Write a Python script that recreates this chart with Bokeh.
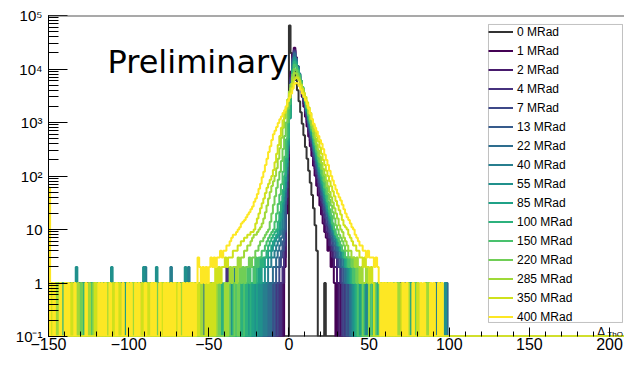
from bokeh.plotting import figure
from bokeh.models import (Range1d, Legend, LegendItem, Label, BoxAnnotation, Span,
                          CustomJSTickFormatter, SingleIntervalTicker)
from bokeh.palettes import Viridis256
from bokeh.embed import file_html
from bokeh.resources import INLINE

# ---------------- data (counts per 1-unit bin) ----------------
labels = ["0 MRad", "1 MRad", "2 MRad", "4 MRad", "7 MRad", "13 MRad", "22 MRad", "40 MRad",
          "55 MRad", "85 MRad", "100 MRad", "150 MRad", "220 MRad", "285 MRad", "350 MRad", "400 MRad"]

bin_lo, bin_hi = -150, 250
x_view = (-150, 209.35)
y_view = (0.1, 1e5)

start_0 = 0
core_0 = [65000, 20000, 14000, 9500, 6200, 4000, 2500, 1550, 950, 580, 350, 210, 125, 75, 44, 25,
          12, 4]
tail_0 = [22]

start_1 = -3
core_1 = [2, 20, 200, 2000, 9000, 19000, 25000, 16500, 10800, 7000, 4600, 3000, 1960, 1280, 840,
          550, 360, 236, 155, 101, 66, 43, 28, 19, 13, 9, 7, 4, 5, 2, 3, 1]
tail_1 = [-124, -14, -10, -7, -5, 30, 31]

start_2 = -4
core_2 = [1, 3, 30, 230, 1700, 7800, 17500, 23000, 16000, 10800, 7300, 4900, 3300, 2220, 1490,
          1000, 670, 450, 302, 203, 136, 92, 62, 42, 28, 19, 13, 9, 7, 5, 4, 3, 2, 2, 1]
tail_2 = [-86, -19, -16, -11, -9, -6, 33, 34]

start_4 = -5
core_4 = [1, 2, 5, 40, 260, 1600, 7000, 16000, 22000, 15800, 11000, 7600, 5200, 3550, 2420, 1650,
          1120, 760, 515, 350, 238, 162, 110, 75, 51, 35, 24, 17, 12, 9, 7, 5, 4, 3, 3, 2, 2, 1]
tail_4 = [-39, -39, -21, -17, -15, -12, -8, -7, 35, 69]

start_7 = -7
core_7 = [1, 2, 3, 4, 9, 60, 300, 1500, 6500, 15000, 21000, 15500, 11200, 8000, 5600, 3900, 2700,
          1860, 1280, 880, 605, 415, 285, 196, 135, 93, 64, 44, 31, 22, 16, 12, 9, 7, 5, 4, 3, 3, 2, 2, 1]
tail_7 = [-126, -57, -30, -16, -13, -10, 36, 39]

start_13 = -9
core_13 = [1, 2, 2, 3, 4, 6, 10, 80, 330, 1400, 5800, 14000, 20000, 15500, 11400, 8200, 5800, 4100,
           2850, 1980, 1370, 950, 660, 460, 320, 222, 155, 108, 76, 54, 39, 28, 20, 15, 11, 8, 6, 5,
           4, 3, 3, 2, 2, 1, 1]
tail_13 = [-131, -93, -68, -43, -32, -18, -15, -14, -12, 38, 43, 72, 91]

start_22 = -11
core_22 = [1, 2, 2, 3, 4, 5, 7, 10, 35, 110, 360, 1300, 5000, 12500, 19000, 15000, 11200, 8200, 5900,
           4200, 2950, 2070, 1450, 1010, 710, 500, 350, 245, 172, 121, 86, 61, 44, 32, 24, 18, 13, 10,
           8, 6, 5, 4, 3, 3, 2, 2, 1, 2, 1]
tail_22 = [-129, -105, -82, -53, -39, -24, -20, -17, -15, -13, 40, 45, 86, 98]

start_40 = -14
core_40 = [1, 2, 2, 3, 3, 4, 5, 6, 8, 10, 22, 50, 130, 380, 1200, 4500, 11000, 17000, 14000, 10800,
           8100, 6000, 4350, 3100, 2200, 1550, 1090, 770, 540, 380, 270, 190, 135, 96, 69, 50, 36, 27,
           20, 15, 12, 9, 7, 6, 5, 4, 3, 3, 2, 2, 1, 2, 1]
tail_40 = [-135, -112, -90, -90, -74, -74, -63, -63, -34, -34, -26, -22, -20, -18, -16,
           41, 48, 80, 92]

start_55 = -17
core_55 = [1, 1, 2, 2, 3, 3, 4, 5, 6, 7, 8, 10, 16, 30, 62, 150, 400, 1200, 4200, 10000, 16000,
           13500, 10500, 8000, 6000, 4400, 3150, 2250, 1600, 1130, 800, 570, 405, 290, 206, 148, 106,
           77, 56, 41, 30, 22, 17, 13, 10, 8, 7, 5, 5, 4, 3, 3, 2, 2, 1, 2, 1]
tail_55 = [-142, -133, -133, -124, -111, -111, -103, -91, -91, -83, -83, -65, -65, -49, -36, -28,
           -25, -21, -19, 42, 49, 75, 97]

start_85 = -20
core_85 = [1, 2, 1, 2, 2, 3, 3, 4, 4, 5, 6, 7, 8, 10, 15, 24, 42, 80, 180, 450, 1200, 4000, 9500,
           14500, 12500, 10000, 7800, 5900, 4400, 3200, 2300, 1650, 1180, 850, 610, 440, 315, 228,
           165, 120, 88, 64, 47, 34, 25, 19, 14, 11, 9, 7, 6, 5, 4, 4, 3, 2, 3, 2, 1, 2, 1]
tail_85 = [-137, -116, -102, -89, -75, -59, -47, -38, -31, -27, -23, 44, 55, 76, 94]

start_100 = -24
core_100 = [1, 1, 2, 1, 2, 2, 3, 2, 3, 3, 4, 5, 6, 7, 8, 9, 10, 14, 21, 33, 55, 100, 220, 520, 1300,
            4000, 9000, 13500, 12000, 9800, 7800, 6000, 4600, 3400, 2500, 1800, 1300, 950, 680, 490,
            350, 255, 185, 135, 98, 72, 53, 39, 29, 21, 16, 12, 10, 8, 7, 5, 5, 4, 3, 3, 2, 3, 2, 1,
            2, 1]
tail_100 = [-141, -128, -112, -100, -84, -73, -63, -51, -42, -35, -30, -27, 46, 52, 65, 85]

start_150 = -28
core_150 = [1, 1, 2, 1, 2, 2, 1, 3, 2, 3, 3, 4, 4, 5, 6, 7, 8, 9, 10, 14, 20, 30, 45, 70, 120, 230,
            480, 1000, 2200, 4500, 8000, 12000, 11000, 9300, 7500, 5900, 4500, 3400, 2500, 1850,
            1350, 980, 710, 520, 380, 280, 205, 150, 110, 82, 60, 45, 33, 24, 18, 13, 10, 8, 7, 6, 5,
            4, 4, 3, 3, 2, 3, 2, 1, 2, 1]
tail_150 = [-144, -134, -123, -120, -109, -95, -87, -79, -70, -56, -45, -40, -33, 50, 56, 67, 79]

start_220 = -34
core_220 = [1, 1, 0, 2, 1, 2, 1, 2, 2, 3, 2, 3, 3, 4, 4, 5, 6, 6, 7, 8, 9, 10, 14, 20, 29, 42, 60,
            85, 120, 190, 320, 560, 1000, 1800, 3200, 5200, 7800, 10000, 9500, 8200, 6800, 5500,
            4300, 3300, 2500, 1900, 1400, 1050, 780, 580, 430, 320, 240, 180, 135, 100, 78, 60, 46,
            36, 28, 21, 16, 12, 10, 8, 7, 6, 5, 4, 4, 3, 3, 2, 3, 2, 1, 2, 1, 1]
tail_220 = [-146, -139, -130, -118, -114, -107, -98, -90, -83, -74, -58, -48, -44, -38, 53, 61,
            78, 87]

start_285 = -40
core_285 = [1, 0, 1, 2, 1, 2, 2, 1, 3, 2, 3, 3, 4, 4, 5, 5, 6, 7, 8, 8, 9, 10, 11, 13, 16, 21, 28,
            38, 50, 65, 80, 100, 140, 210, 330, 520, 800, 1200, 1800, 2700, 3800, 5200, 7000, 8500,
            8200, 7300, 6200, 5100, 4100, 3300, 2600, 2000, 1500, 1150, 880, 670, 510, 390, 300,
            230, 175, 135, 105, 82, 64, 50, 40, 32, 25, 20, 16, 12, 10, 9, 7, 6, 5, 4, 4, 3, 3, 2,
            3, 2, 1, 2, 1, 1, 2, 1]
tail_285 = [-149, -145, -132, -125, -122, -113, -101, -97, -85, -77, -67, -61, -55, -52, -46,
            57, 68, 74, 86, 93]

start_350 = -48
core_350 = [1, 0, 2, 1, 2, 1, 2, 2, 3, 2, 3, 3, 3, 4, 4, 4, 5, 5, 6, 6, 7, 7, 8, 8, 9, 9, 10, 13,
            16, 20, 25, 31, 38, 48, 60, 72, 85, 100, 130, 180, 260, 380, 560, 800, 1100, 1500, 2000,
            2700, 3500, 4400, 5400, 6400, 7000, 6800, 6000, 5100, 4300, 3600, 3000, 2400, 1900,
            1500, 1150, 900, 700, 560, 440, 340, 260, 200, 160, 125, 100, 80, 64, 52, 42, 34, 28,
            23, 19, 15, 12, 11, 10, 8, 7, 6, 5, 5, 4, 4, 3, 3, 2, 3, 2, 2, 1, 2, 1]
tail_350 = [-148, -136, -121, -110, -106, -92, -88, -80, -71, -64, -57, -52, -50, 59, 63, 70, 80,
            90]

start_400 = -58
core_400 = [1, 3, 2, 1, 2, 1, 2, 1, 2, 3, 2, 3, 2, 3, 3, 4, 3, 4, 4, 5, 5, 6, 7, 8, 8, 9, 10, 11,
            13, 14, 15, 17, 19, 21, 24, 27, 33, 38, 46, 58, 72, 95, 120, 160, 210, 280, 360, 470,
            600, 700, 820, 980, 1150, 1300, 1500, 1700, 2000, 2500, 2900, 3500, 4300, 5200, 5500,
            5400, 4800, 4100, 3500, 3000, 2600, 2200, 1800, 1450, 1150, 950, 800, 680, 560, 470,
            400, 320, 250, 200, 160, 125, 100, 82, 68, 56, 47, 40, 35, 29, 24, 20, 17, 15, 13, 11,
            10, 8, 7, 6, 5, 5, 4, 4, 3, 4, 3, 3, 3, 2, 3, 2, 1]
tail_400 = [-147, -143, -140, -138, -134, -127, -119, -117, -115, -112, -108, -104, -101, -99, -96,
            -94, -90, -86, -84, -81, -78, -76, -74, -72, -69, -66, -64, -62, -60,
            58, 60, 62, 64, 66, 71, 73, 77, 82, 84, 88, 90, 93, 95]
first_bin_400 = 61

series = [
    (start_0, core_0, tail_0), (start_1, core_1, tail_1), (start_2, core_2, tail_2),
    (start_4, core_4, tail_4), (start_7, core_7, tail_7), (start_13, core_13, tail_13),
    (start_22, core_22, tail_22), (start_40, core_40, tail_40), (start_55, core_55, tail_55),
    (start_85, core_85, tail_85), (start_100, core_100, tail_100), (start_150, core_150, tail_150),
    (start_220, core_220, tail_220), (start_285, core_285, tail_285), (start_350, core_350, tail_350),
    (start_400, core_400, tail_400),
]

# ---------------- styling ----------------
colors = ["#333333"] + [Viridis256[round(i * 255 / 14)] for i in range(15)]
FONT = "Liberation Sans"

p = figure(width=624, height=356, x_range=Range1d(*x_view), y_range=Range1d(*y_view),
           y_axis_type="log", output_backend="svg", toolbar_location=None,
           min_border_left=48, min_border_right=0, min_border_top=15, min_border_bottom=20)
p.xgrid.visible = False
p.ygrid.visible = False
p.outline_line_color = None
p.background_fill_color = "white"

xa = p.xaxis[0]
xa.ticker = SingleIntervalTicker(interval=50, num_minor_ticks=5)
xa.formatter = CustomJSTickFormatter(code="return tick < 0 ? '\\u2212' + Math.abs(tick) : String(tick);")
xa.axis_line_color = None
xa.major_tick_in = 9
xa.major_tick_out = 0
xa.minor_tick_in = 5
xa.minor_tick_out = 0
xa.major_tick_line_color = "black"
xa.minor_tick_line_color = "black"
xa.major_label_text_font = FONT
xa.major_label_text_font_size = "16px"
xa.major_label_text_color = "black"
xa.major_label_standoff = 1

ya = p.yaxis[0]
ya.formatter = CustomJSTickFormatter(code="""
const e = Math.round(Math.log10(tick));
if (e == 0) return '1';
if (e == 1) return '10';
const sup = {'-1': '\\u207B\\u00B9', '2': '\\u00B2', '3': '\\u00B3', '4': '\\u2074', '5': '\\u2075'};
return '10' + sup[String(e)];
""")
ya.axis_line_color = "black"
ya.major_tick_in = 19
ya.major_tick_out = 0
ya.minor_tick_in = 10
ya.minor_tick_out = 0
ya.major_tick_line_color = "black"
ya.minor_tick_line_color = "black"
ya.major_label_text_font = FONT
ya.major_label_text_font_size = "15px"
ya.major_label_text_color = "black"
ya.major_label_standoff = 6

p.add_layout(Span(location=y_view[0], dimension="width", line_color="black", line_width=2,
                  level="underlay"))
p.add_layout(Span(location=y_view[1], dimension="width", line_color="#555555", line_width=2))

floor = y_view[0]
items = []
for k, ((start, core, tail), lab) in enumerate(zip(series, labels)):
    n = bin_hi - bin_lo
    counts = [0] * n
    for j, c in enumerate(core):
        counts[start + j - bin_lo] += c
    for b in tail:
        counts[b - bin_lo] += 1
    if k == len(series) - 1:
        counts[0] += first_bin_400
    xs = [bin_lo]
    ys = [floor]
    for i, c in enumerate(counts):
        v = c if c > 0 else floor
        xs += [bin_lo + i, bin_lo + i + 1]
        ys += [v, v]
    xs.append(bin_hi)
    ys.append(floor)
    r = p.line(xs, ys, line_color=colors[k], line_width=2)
    items.append(LegendItem(label=lab, renderers=[r]))

# legend frame
p.add_layout(BoxAnnotation(left=124.5, right=208.1, top=67950, bottom=0.1828,
                           fill_color="white", fill_alpha=1.0,
                           line_color="#333333", line_width=1))
legend = Legend(items=items, location=(440, 10), orientation="vertical",
                background_fill_alpha=0, border_line_color=None, padding=5, spacing=0,
                margin=0, glyph_width=25, glyph_height=19, label_height=19, label_standoff=4,
                label_text_font=FONT, label_text_font_size="12px", label_text_color="black")
p.add_layout(legend)

p.add_layout(Label(x=-113.2, y=13500, text="Preliminary", text_font="DejaVu Sans",
                   text_font_size="32px", text_baseline="alphabetic", text_color="black"))
# x-axis title (cut off in the original), kept inside the frame corner
p.add_layout(Label(x=192.5, y=0.1675, text="\u0394", text_font=FONT, text_font_size="11px",
                   text_baseline="top", text_color="black"))
p.add_layout(Label(x=198.7, y=0.135, text="ThO", text_font=FONT, text_font_size="8px",
                   text_baseline="top", text_color="black"))

open("out.html", "w").write(file_html(p, INLINE))
